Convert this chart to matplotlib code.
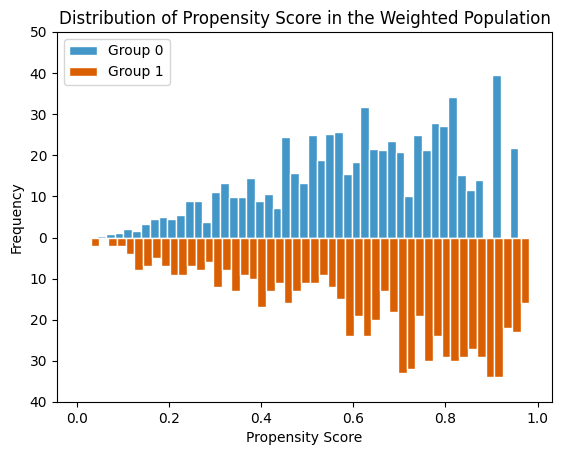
import matplotlib
matplotlib.use("Agg")
import matplotlib.pyplot as plt
from matplotlib.ticker import FuncFormatter
import numpy as np

# Weighted histogram counts (50 bins per group)
group0_counts = [0.0, 0.25, 0.3, 0.75, 1.2, 2.2, 1.7, 3.2, 4.6, 5.1,
                 4.4, 5.4, 8.8, 8.8, 3.9, 11.0, 13.2, 9.8, 9.8, 14.6,
                 8.8, 10.5, 7.3, 24.4, 15.6, 13.2, 24.9, 18.8, 25.1, 25.6,
                 15.4, 18.3, 31.7, 21.5, 21.2, 23.4, 20.7, 10.2, 24.9, 21.2,
                 27.8, 27.1, 34.1, 15.1, 11.5, 13.9, 0.0, 39.5, 0.0, 21.7]
group1_counts = [2, 0, 2, 2, 4, 8, 7, 5, 7, 9,
                 9, 7, 8, 6, 12, 8, 13, 9, 10, 17,
                 13, 11, 16, 13, 11, 11, 9, 12, 15, 24,
                 19, 24, 20, 13, 18, 33, 32, 19, 30, 24,
                 29, 30, 29, 27, 29, 34, 34, 22, 23, 16]

# propensity score range covered by each group's bins
group0_range = (0.005, 0.9585)
group1_range = (0.029, 0.9825)

edges0 = np.linspace(group0_range[0], group0_range[1], len(group0_counts) + 1)
edges1 = np.linspace(group1_range[0], group1_range[1], len(group1_counts) + 1)
centers0 = (edges0[:-1] + edges0[1:]) / 2
centers1 = (edges1[:-1] + edges1[1:]) / 2

fig = plt.figure(figsize=(5.62, 4.55), dpi=100)
ax = fig.add_axes([0.1014, 0.1165, 0.8808, 0.8132])

ax.hist(centers0, bins=edges0, weights=group0_counts, color="#4396c8",
        edgecolor="white", linewidth=1, label="Group 0")
ax.hist(centers1, bins=edges1, weights=-np.array(group1_counts), color="#d95f02",
        edgecolor="white", linewidth=1, label="Group 1")

ax.set_ylim(-40, 50)
ax.set_yticks(np.arange(-40, 51, 10))
ax.yaxis.set_major_formatter(FuncFormatter(lambda v, pos: f"{abs(int(v))}"))

ax.set_title("Distribution of Propensity Score in the Weighted Population")
ax.set_xlabel("Propensity Score")
ax.set_ylabel("Frequency")
ax.legend(loc="upper left")

fig.savefig("out.png", dpi=100)
